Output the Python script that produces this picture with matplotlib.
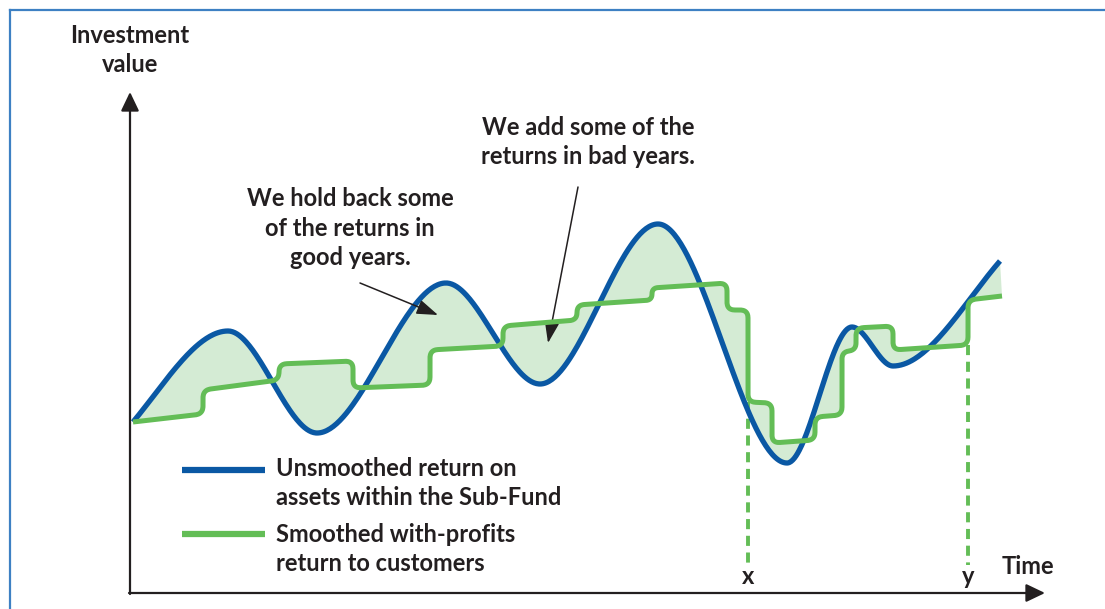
import numpy as np
import matplotlib as mpl
from matplotlib import pyplot as plt
from matplotlib.lines import Line2D

# unsmoothed return: turning points (time, value) and end slopes
BLUE_T = [3, 98, 187, 316, 410, 528, 657, 722, 763, 870]
BLUE_V = [171, 262, 160, 310, 209, 369, 130, 266, 227, 332]
BLUE_SLOPE = [1.2, 0, 0, 0, 0, 0, 0, 0, 0, 1.15]

# smoothed return: flat levels between declared steps
GREEN_START = 3
GREEN_END = 872
GREEN_STEPS = [73, 149, 223, 300, 373, 447, 522, 597, 618, 642, 685, 712, 726, 763, 838]
GREEN_LEVEL_FROM = [171, 203, 229, 205, 243, 267, 288, 305, 283, 191, 150, 176, 241, 265, 243, 293]
GREEN_LEVEL_TO = [179, 213, 232, 208, 247, 273, 293, 310, 283, 190, 153, 178, 243, 267, 248, 297]

MARK_T = [618, 838]
MARK_V = [191, 248]
MARK_LABELS = ["x", "y"]

BLUE = "#0a58a4"
GREEN = "#63bd56"
FILL = "#d4ebd4"
INK = "#231f20"
FRAME = "#3d80c3"
FONT = "Lato"
FS = 17


def hermite(ts, vs, ms, n=80):
    out_t, out_v = [], []
    for i in range(len(ts) - 1):
        h = ts[i + 1] - ts[i]
        s = np.linspace(0, 1, n)
        h00 = 2 * s**3 - 3 * s**2 + 1
        h10 = s**3 - 2 * s**2 + s
        h01 = -2 * s**3 + 3 * s**2
        h11 = s**3 - s**2
        out_t.append(ts[i] + s * h)
        out_v.append(h00 * vs[i] + h10 * h * ms[i] + h01 * vs[i + 1] + h11 * h * ms[i + 1])
    return np.concatenate(out_t), np.concatenate(out_v)


def rounded(ts, vs, r=8):
    pts = np.column_stack([ts, vs]).astype(float)
    out = [pts[0]]
    s = np.linspace(0, 1, 14)[:, None]
    for i in range(1, len(pts) - 1):
        p0, p1, p2 = pts[i - 1], pts[i], pts[i + 1]
        d1, d2 = p0 - p1, p2 - p1
        l1, l2 = np.hypot(*d1), np.hypot(*d2)
        rr = min(r, l1 / 2, l2 / 2)
        a = p1 + d1 / l1 * rr
        b = p1 + d2 / l2 * rr
        out.extend((1 - s) ** 2 * a + 2 * (1 - s) * s * p1 + s**2 * b)
    out.append(pts[-1])
    out = np.array(out)
    return out[:, 0], out[:, 1]


def main():
    mpl.rcParams["font.family"] = [FONT, "DejaVu Sans"]
    fig = plt.figure(figsize=(11.05, 6.09), dpi=100)
    ax = fig.add_axes([0, 0, 1, 1])
    ax.set_xlim(-130, 975)
    ax.set_ylim(-16, 593)
    ax.axis("off")

    bt, bv = hermite(BLUE_T, BLUE_V, BLUE_SLOPE)
    gt = [GREEN_START]
    gv = [GREEN_LEVEL_FROM[0]]
    for i, st in enumerate(GREEN_STEPS):
        gt += [st, st]
        gv += [GREEN_LEVEL_TO[i], GREEN_LEVEL_FROM[i + 1]]
    gt.append(GREEN_END)
    gv.append(GREEN_LEVEL_TO[-1])
    gt, gv = rounded(gt, gv)

    ax.fill(np.r_[bt, gt[::-1]], np.r_[bv, gv[::-1]], color=FILL, lw=0, zorder=1)
    ax.plot(bt, bv, color=BLUE, lw=3.8, solid_capstyle="butt", zorder=3)
    ax.plot(gt, gv, color=GREEN, lw=3.6, solid_capstyle="butt", zorder=4)

    text = dict(fontsize=FS, fontweight="bold", color=INK, linespacing=1.35)
    for t, v, lab in zip(MARK_T, MARK_V, MARK_LABELS):
        ax.plot([t, t], [v, 28], color=GREEN, lw=2.8, dashes=[2.6, 1.7], zorder=2)
        ax.text(t, 16, lab, ha="center", va="center", **text)

    # axes with arrow heads
    arrow = dict(arrowstyle="-|>,head_length=1.15,head_width=0.55", lw=1.6,
                 color=INK, shrinkA=0, shrinkB=0, mutation_scale=10)
    ax.annotate("", xy=(0, 501), xytext=(0, -1), arrowprops=arrow)
    ax.annotate("", xy=(915, 0), xytext=(-1, 0), arrowprops=arrow)
    ax.text(0, 543, "Investment\nvalue", ha="center", va="center", **text)
    ax.text(898, 27, "Time", ha="center", va="center", **text)

    # annotations
    pointer = dict(arrowstyle="-|>,head_length=1.3,head_width=0.45", lw=1.1,
                   color=INK, shrinkA=0, shrinkB=0, mutation_scale=10)
    ax.text(220, 365, "We hold back some\nof the returns in\ngood years.",
            ha="center", va="center", **text)
    ax.annotate("", xy=(308, 278), xytext=(230, 310), arrowprops=pointer)
    ax.text(458, 451, "We add some of the\nreturns in bad years.",
            ha="center", va="center", **text)
    ax.annotate("", xy=(418, 250), xytext=(448, 406), arrowprops=pointer)

    # legend
    ax.plot([52, 135], [123, 123], color=BLUE, lw=4.5, solid_capstyle="butt")
    ax.plot([52, 135], [59, 59], color=GREEN, lw=4.5, solid_capstyle="butt")
    ax.text(146, 110, "Unsmoothed return on\nassets within the Sub-Fund",
            ha="left", va="center", **text)
    ax.text(146, 44, "Smoothed with-profits\nreturn to customers",
            ha="left", va="center", **text)

    # outer frame
    x0, y0 = 10 / 1105, 1 - 10 / 609
    fig.add_artist(Line2D([x0, 1], [y0, y0], color=FRAME, lw=1.6))
    fig.add_artist(Line2D([x0, x0], [0, y0], color=FRAME, lw=1.6))

    fig.savefig("out.png", dpi=100)
    plt.close(fig)


if __name__ == "__main__":
    main()
